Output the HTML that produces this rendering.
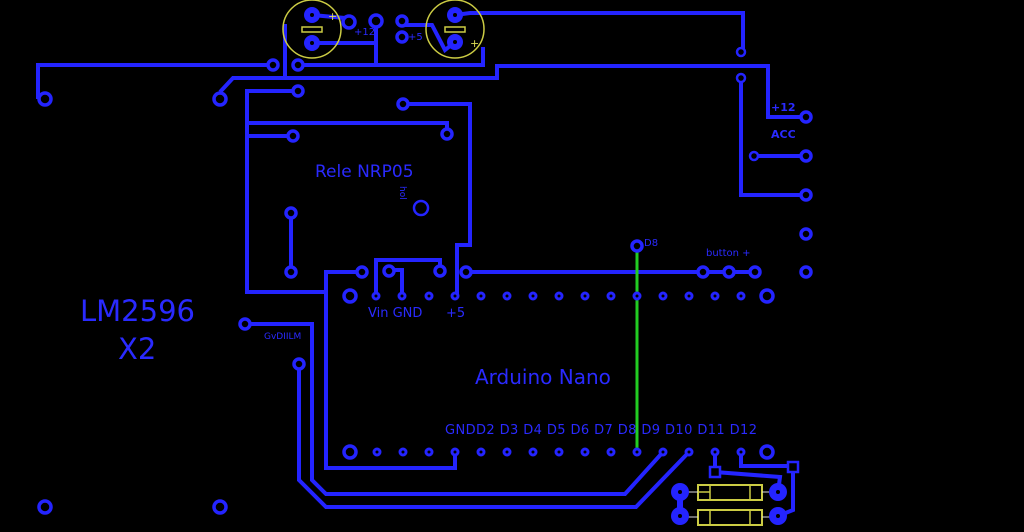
<!DOCTYPE html>
<html><head><style>
html,body{margin:0;padding:0;background:#000;}
svg{display:block}
text{font-family:"DejaVu Sans","Liberation Sans",sans-serif;fill:#2a2aff}
</style></head><body>
<svg width="1024" height="532" viewBox="0 0 1024 532" xmlns="http://www.w3.org/2000/svg">
<rect width="1024" height="532" fill="#000"/>
<g stroke="#2424ff" stroke-width="4" fill="none" stroke-linejoin="miter">
<!-- top area -->
<polyline points="38,99 38,65 273,65"/>
<polyline points="298,65 483,65 483,47"/>
<polyline points="285,24 285,78 233,78 220,92"/>
<polyline points="285,78 497,78 497,66 768,66 768,117 806,117"/>
<polyline points="312,15 345,18"/>
<polyline points="312,43 376,43"/>
<polyline points="376,24 376,65"/>
<polyline points="402,25 432,25 445,50 455,42"/>
<polyline points="455,15 470,13 743,13 743,52"/>
<polyline points="741,78 741,195 806,195"/>
<polyline points="754,156 806,156"/>
<!-- relay area -->
<polyline points="298,91 247,91 247,292 324,292"/>
<polyline points="247,123 447,123 447,133"/>
<polyline points="247,136 293,136"/>
<polyline points="403,104 470,104 470,245 457,245 457,296"/>
<polyline points="291,213 291,272"/>
<polyline points="362,272 326,272 326,468 455,468 455,452"/>
<polyline points="376,296 376,260 440,260 440,270"/>
<polyline points="389,270 402,270 402,296"/>
<polyline points="466,272 755,272"/>
<!-- bottom traces -->
<polyline points="245,324 312,324 312,480 326,494 625,494 663,452"/>
<polyline points="299,364 299,480 326,507 636,507 689,452"/>
<polyline points="715,452 715,472 780,477 778,492"/>
<polyline points="741,452 741,466 793,466 793,510 778,516"/>
<polyline points="680,492 680,516" stroke-width="6"/>
</g>
<line x1="637" y1="245" x2="637" y2="452" stroke="#22cc22" stroke-width="3"/>
<!-- caps -->
<g stroke="#cccc44" stroke-width="1.5" fill="none">
<circle cx="312" cy="29" r="29"/><circle cx="455" cy="29" r="29"/>
<rect x="302" y="27" width="20" height="5"/><rect x="445" y="27" width="20" height="5"/>
<rect x="698" y="485" width="64" height="15" stroke-width="2"/>
<rect x="698" y="510" width="64" height="15" stroke-width="2"/>
<line x1="698" y1="492" x2="710" y2="492"/><line x1="750" y1="492" x2="750" y2="492"/>
<line x1="710" y1="485" x2="710" y2="500"/><line x1="750" y1="485" x2="750" y2="500"/>
<line x1="710" y1="510" x2="710" y2="525"/><line x1="750" y1="510" x2="750" y2="525"/>
</g>
<g stroke="#ddd" stroke-width="1"><line x1="680" y1="492" x2="698" y2="492"/><line x1="762" y1="492" x2="778" y2="492"/><line x1="680" y1="517" x2="698" y2="517"/><line x1="762" y1="517" x2="778" y2="517"/></g>
<g fill="#2424ff">
<circle cx="312" cy="15" r="8"/><circle cx="312" cy="43" r="8"/>
<circle cx="455" cy="15" r="8"/><circle cx="455" cy="42" r="8"/>
<circle cx="680" cy="492" r="9"/><circle cx="680" cy="516" r="9"/>
<circle cx="778" cy="492" r="9"/><circle cx="778" cy="516" r="9"/>
</g>
<g fill="#000"><circle cx="312" cy="15" r="2"/><circle cx="312" cy="43" r="2"/><circle cx="455" cy="15" r="2"/><circle cx="455" cy="42" r="2"/>
<circle cx="680" cy="492" r="2"/><circle cx="680" cy="516" r="2"/><circle cx="778" cy="492" r="2"/><circle cx="778" cy="516" r="2"/></g>
<!-- pads -->
<g stroke="#2424ff" stroke-width="3.5" fill="#000">
<circle cx="349" cy="22" r="6"/><circle cx="376" cy="21" r="6"/><circle cx="402" cy="21" r="5"/><circle cx="402" cy="37" r="5"/>
<circle cx="45" cy="99" r="6"/><circle cx="220" cy="99" r="6"/><circle cx="273" cy="65" r="5"/><circle cx="298" cy="65" r="5"/>
<circle cx="298" cy="91" r="5"/><circle cx="403" cy="104" r="5"/><circle cx="293" cy="136" r="5"/><circle cx="447" cy="134" r="5"/>
<circle cx="291" cy="213" r="5"/><circle cx="291" cy="272" r="5"/><circle cx="421" cy="208" r="7" stroke-width="2.5"/>
<circle cx="362" cy="272" r="5"/><circle cx="389" cy="271" r="5"/><circle cx="440" cy="271" r="5"/><circle cx="466" cy="272" r="5"/>
<circle cx="703" cy="272" r="5"/><circle cx="729" cy="272" r="5"/><circle cx="755" cy="272" r="5"/><circle cx="637" cy="246" r="5"/>
<circle cx="741" cy="52" r="4" stroke-width="2.5"/><circle cx="741" cy="78" r="4" stroke-width="2.5"/><circle cx="754" cy="156" r="4" stroke-width="2.5"/>
<circle cx="806" cy="117" r="5"/><circle cx="806" cy="156" r="5"/><circle cx="806" cy="195" r="5"/><circle cx="806" cy="234" r="5"/><circle cx="806" cy="272" r="5"/>
<circle cx="245" cy="324" r="5"/><circle cx="299" cy="364" r="5"/>
<circle cx="45" cy="507" r="6"/><circle cx="220" cy="507" r="6"/>
<circle cx="350" cy="296" r="6"/><circle cx="767" cy="296" r="6"/>
<circle cx="350" cy="452" r="6"/><circle cx="767" cy="452" r="6"/>
<rect x="710" y="467" width="10" height="10" stroke-width="2.5"/><rect x="788" y="462" width="10" height="10" stroke-width="2.5"/>
</g>
<g stroke="#2424ff" stroke-width="3" fill="#000">
<circle cx="376" cy="296" r="3"/><circle cx="402" cy="296" r="3"/><circle cx="429" cy="296" r="3"/><circle cx="455" cy="296" r="3"/><circle cx="481" cy="296" r="3"/><circle cx="507" cy="296" r="3"/><circle cx="533" cy="296" r="3"/><circle cx="559" cy="296" r="3"/><circle cx="585" cy="296" r="3"/><circle cx="611" cy="296" r="3"/><circle cx="637" cy="296" r="3"/><circle cx="663" cy="296" r="3"/><circle cx="689" cy="296" r="3"/><circle cx="715" cy="296" r="3"/><circle cx="741" cy="296" r="3"/>
<circle cx="377" cy="452" r="3"/><circle cx="403" cy="452" r="3"/><circle cx="429" cy="452" r="3"/><circle cx="455" cy="452" r="3"/><circle cx="481" cy="452" r="3"/><circle cx="507" cy="452" r="3"/><circle cx="533" cy="452" r="3"/><circle cx="559" cy="452" r="3"/><circle cx="585" cy="452" r="3"/><circle cx="611" cy="452" r="3"/><circle cx="637" cy="452" r="3"/><circle cx="663" cy="452" r="3"/><circle cx="689" cy="452" r="3"/><circle cx="715" cy="452" r="3"/><circle cx="741" cy="452" r="3"/>
</g>
<!-- text -->
<text x="315" y="177" font-size="17">Rele NRP05</text>
<text x="400" y="186" font-size="9" transform="rotate(90 400 186)">hol</text>
<text x="80" y="321" font-size="29">LM2596</text>
<text x="118" y="359" font-size="29">X2</text>
<text x="475" y="384" font-size="20">Arduino Nano</text>
<text x="368" y="317" font-size="13">Vin GND</text>
<text x="446" y="317" font-size="13">+5</text>
<text x="445" y="434" font-size="13" textLength="312">GNDD2 D3 D4 D5 D6 D7 D8 D9 D10 D11 D12</text>
<text x="644" y="246" font-size="10">D8</text>
<text x="706" y="256" font-size="10">button +</text>
<text x="771" y="111" font-size="11" font-weight="bold">+12</text>
<text x="771" y="138" font-size="11" font-weight="bold">ACC</text>
<text x="264" y="339" font-size="9">GvDIILM</text>
<text x="354" y="35" font-size="10">+12</text>
<text x="408" y="40" font-size="10">+5</text>
<text x="328" y="20" font-size="11" fill="#dddd55" style="fill:#dddd55">+</text>
<text x="470" y="47" font-size="11" style="fill:#dddd55">+</text>
</svg>
</body></html>
